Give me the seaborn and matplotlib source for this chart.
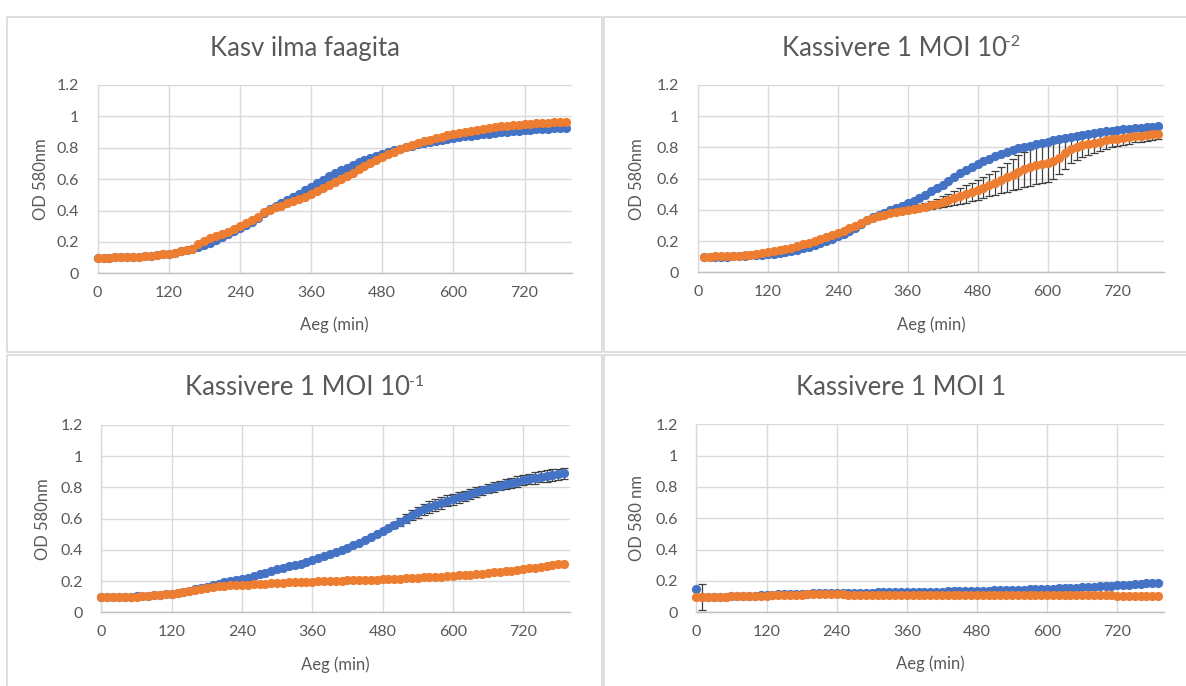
import matplotlib
matplotlib.use("Agg")
import matplotlib.pyplot as plt
from matplotlib.patches import Rectangle
from matplotlib.ticker import FuncFormatter
import seaborn as sns

# ---------------------------------------------------------------- data
# sampling schedule (min)
TIME = list(range(0, 800, 10))
TIME_MOI2 = list(range(10, 800, 10))

# Kasv ilma faagita
kasv_blue = [
    .100, .100, .100, .101, .102, .103, .105, .107, .110, .113,
    .117, .121, .126, .132, .139, .147, .156, .167, .180, .195,
    .212, .230, .249, .268, .288, .308, .330, .355, .385, .410,
    .430, .447, .465, .485, .507, .530, .553, .575, .596, .617,
    .637, .656, .674, .692, .708, .723, .737, .750, .762, .773,
    .784, .795, .805, .814, .822, .830, .837, .844, .850, .856,
    .862, .867, .872, .877, .882, .886, .890, .894, .898, .902,
    .905, .908, .911, .914, .917, .920, .922, .924, .926, .928]
kasv_orange = [
    .100, .100, .100, .101, .102, .103, .105, .107, .110, .113,
    .117, .121, .126, .132, .139, .146, .156, .185, .208, .222,
    .236, .250, .265, .282, .300, .318, .338, .360, .388, .405,
    .420, .432, .445, .458, .472, .488, .505, .523, .542, .562,
    .582, .602, .622, .642, .662, .683, .703, .722, .740, .758,
    .775, .790, .805, .818, .830, .841, .852, .862, .871, .880,
    .888, .896, .903, .910, .916, .922, .927, .932, .936, .940,
    .944, .947, .950, .953, .956, .958, .960, .962, .963, .964]

# Kassivere 1 MOI 10^-2
moi2_blue = [
    .096, .097, .098, .099, .100, .102, .104, .106, .108, .110,
    .113, .116, .120, .125, .131, .138, .146, .155, .165, .176,
    .188, .201, .215, .230, .247, .266, .287, .310, .333, .355,
    .370, .383, .396, .410, .425, .442, .460, .478, .497, .518,
    .540, .562, .586, .610, .633, .655, .675, .694, .712, .729,
    .745, .759, .772, .784, .794, .803, .811, .819, .828, .836,
    .845, .853, .860, .866, .873, .880, .886, .892, .898, .903,
    .908, .913, .917, .920, .923, .926, .929, .932, .935]
moi2_orange = [
    .100, .101, .102, .103, .104, .105, .107, .109, .112, .116,
    .121, .127, .134, .141, .149, .158, .168, .179, .190, .201,
    .212, .224, .237, .251, .266, .282, .299, .316, .332, .346,
    .358, .369, .378, .386, .393, .399, .406, .413, .421, .430,
    .440, .451, .463, .476, .489, .502, .515, .528, .543, .558,
    .574, .591, .608, .626, .643, .659, .673, .685, .694, .701,
    .713, .735, .763, .788, .803, .814, .823, .831, .838, .845,
    .851, .857, .862, .867, .872, .876, .880, .884, .888]
moi2_err_time = list(range(380, 800, 10))
moi2_orange_err = [
    .015, .020, .025, .030, .035, .040, .045, .050, .055, .060,
    .064, .068, .072, .078, .085, .092, .100, .107, .113, .118,
    .121, .122, .121, .116, .108, .098, .089, .081, .075, .069,
    .064, .059, .055, .051, .048, .045, .042, .040, .038, .036,
    .035, .034]

# Kassivere 1 MOI 10^-1
moi1_blue = [
    .096, .097, .098, .099, .100, .101, .102, .104, .106, .109,
    .112, .116, .120, .126, .132, .139, .147, .156, .165, .174,
    .183, .191, .199, .206, .213, .222, .232, .243, .254, .266,
    .277, .286, .294, .302, .311, .322, .334, .346, .358, .371,
    .385, .399, .414, .430, .446, .463, .481, .499, .518, .538,
    .558, .579, .600, .621, .641, .659, .675, .689, .702, .714,
    .725, .736, .747, .758, .770, .782, .793, .802, .811, .820,
    .829, .838, .847, .854, .861, .868, .874, .880, .885, .890]
moi1_orange = [
    .095, .096, .097, .098, .099, .100, .101, .103, .105, .108,
    .111, .115, .119, .124, .130, .137, .144, .151, .158, .163,
    .167, .170, .172, .174, .176, .178, .180, .182, .184, .186,
    .188, .190, .191, .193, .194, .196, .197, .198, .199, .201,
    .202, .203, .204, .205, .206, .207, .208, .209, .211, .212,
    .213, .215, .217, .219, .221, .223, .225, .227, .229, .231,
    .233, .236, .239, .242, .245, .248, .251, .255, .259, .263,
    .267, .272, .277, .282, .287, .292, .297, .302, .307, .312]
moi1_err_time = list(range(500, 800, 10))
moi1_blue_err = [
    .020, .025, .030, .032, .034, .035, .036, .037, .037, .036,
    .035, .034, .033, .032, .031, .030, .030, .030, .030, .031,
    .032, .033, .034, .035, .036, .036, .036, .036, .035, .035]

# Kassivere 1 MOI 1
moi0_blue = [
    .147, .100, .099, .099, .100, .100, .101, .102, .103, .104,
    .106, .108, .110, .112, .114, .116, .117, .118, .119, .120,
    .121, .122, .122, .123, .123, .124, .124, .125, .125, .126,
    .126, .127, .127, .128, .128, .129, .129, .130, .130, .131,
    .131, .132, .132, .133, .134, .134, .135, .136, .137, .138,
    .139, .140, .141, .142, .143, .144, .145, .146, .147, .148,
    .150, .151, .153, .154, .156, .158, .160, .162, .164, .166,
    .168, .170, .172, .174, .177, .179, .182, .184, .187, .189]
moi0_orange = [
    .098, .097, .097, .098, .099, .100, .101, .102, .103, .104,
    .105, .106, .107, .108, .109, .110, .111, .112, .113, .114,
    .115, .116, .116, .116, .115, .114, .113, .112, .112, .111,
    .111, .111, .110, .110, .110, .110, .110, .110, .110, .110,
    .110, .110, .110, .110, .110, .110, .110, .110, .110, .110,
    .109, .109, .109, .109, .109, .109, .109, .109, .109, .109,
    .109, .108, .108, .108, .108, .108, .108, .108, .108, .108,
    .108, .108, .107, .107, .107, .107, .107, .107, .107, .107]
moi0_err_time = [10]
moi0_orange_err = [.082]

X_TICKS = [0, 120, 240, 360, 480, 600, 720]
Y_TICKS = [0, 0.2, 0.4, 0.6, 0.8, 1.0, 1.2]

# ---------------------------------------------------------------- style
BLUE = "#4472C4"
ORANGE = "#ED7D31"
TEXT = "#595959"
GRID = "#D9D9D9"
TITLE_SIZE = 18.5

sns.set_style("white")
plt.rcParams["font.family"] = ["Lato", "DejaVu Sans"]

W, H = 1186, 686
fig = plt.figure(figsize=(W / 100, H / 100), dpi=100)
renderer = fig.canvas.get_renderer()


def fx(px):
    return px / W


def fy(py):
    return 1 - py / H


def chart_title(cx, base, main, sup=None):
    """Centred title; an optional exponent is set small and raised."""
    t1 = fig.text(0, fy(base), main, ha="left", va="baseline",
                  fontsize=TITLE_SIZE, color=TEXT)
    w1 = t1.get_window_extent(renderer).width
    w2, t2 = 0, None
    if sup:
        t2 = fig.text(0, fy(base - 9.5), sup, ha="left", va="baseline",
                      fontsize=TITLE_SIZE * 0.62, color=TEXT)
        w2 = t2.get_window_extent(renderer).width - 1
    x0 = cx - (w1 + w2) / 2
    t1.set_x(fx(x0))
    if t2 is not None:
        t2.set_x(fx(x0 + w1 - 1.5))


# light frames around each chart
for x0, y0, x1, y1 in [(7, 17, 602, 352), (604, 17, 1200, 352),
                       (7, 355, 602, 700), (604, 355, 1200, 700)]:
    fig.patches.append(Rectangle((fx(x0), fy(y1)), (x1 - x0) / W, (y1 - y0) / H,
                                 transform=fig.transFigure, fill=False,
                                 edgecolor=GRID, lw=1.2))

panels = [
    dict(box=(97.6, 85, 572, 273.3), title=("Kasv ilma faagita", None), tx=305, ty=56,
         ylab="OD 580nm", ylx=41, xly=325,
         blue=(TIME, kasv_blue), orange=(TIME, kasv_orange), err=None),
    dict(box=(698, 85, 1164, 272.3), title=("Kassivere 1 MOI 10", "-2"), tx=901, ty=56,
         ylab="OD 580nm", ylx=637, xly=325,
         blue=(TIME_MOI2, moi2_blue), orange=(TIME_MOI2, moi2_orange),
         err=("orange", moi2_err_time, moi2_orange_err)),
    dict(box=(101.4, 425, 570, 612.3), title=("Kassivere 1 MOI 10", "-1"), tx=305, ty=395,
         ylab="OD 580nm", ylx=43, xly=665,
         blue=(TIME, moi1_blue), orange=(TIME, moi1_orange),
         err=("blue", moi1_err_time, moi1_blue_err)),
    dict(box=(696.4, 424.3, 1164, 612.3), title=("Kassivere 1 MOI 1", None), tx=901, ty=395,
         ylab="OD 580 nm", ylx=637, xly=664,
         blue=(TIME, moi0_blue), orange=(TIME, moi0_orange),
         err=("orange", moi0_err_time, moi0_orange_err)),
]

for p in panels:
    l, t, r, b = p["box"]
    ax = fig.add_axes([fx(l), fy(b), (r - l) / W, (b - t) / H])

    # error bars sit under the markers
    if p["err"] is not None:
        which, et, ev = p["err"]
        st, sv = p[which]
        lookup = dict(zip(st, sv))
        ax.errorbar(et, [lookup[v] for v in et], yerr=ev, fmt="none",
                    ecolor="#404040", elinewidth=0.9, capsize=3, capthick=0.9,
                    zorder=2)

    bt, bv = p["blue"]
    ot, ov = p["orange"]
    sns.scatterplot(x=bt, y=bv, ax=ax, color=BLUE, s=44, linewidth=0,
                    clip_on=False, zorder=3)
    sns.scatterplot(x=ot, y=ov, ax=ax, color=ORANGE, s=44, linewidth=0,
                    clip_on=False, zorder=4)

    ax.set_xlim(0, 800)
    ax.set_ylim(0, 1.2)
    ax.set_xticks(X_TICKS)
    ax.set_yticks(Y_TICKS)
    ax.yaxis.set_major_formatter(FuncFormatter(lambda v, _: f"{v:g}"))
    ax.tick_params(axis="both", length=0, labelsize=11.5, labelcolor=TEXT)
    ax.tick_params(axis="y", pad=13.5)
    ax.tick_params(axis="x", pad=9)
    ax.grid(True, color=GRID, lw=1)
    ax.set_axisbelow(True)
    for s in ("top", "right"):
        ax.spines[s].set_visible(False)
    ax.spines["left"].set_color(GRID)
    ax.spines["bottom"].set_color("#BFBFBF")
    ax.spines["left"].set_linewidth(1)
    ax.spines["bottom"].set_linewidth(1)
    ax.set_xlabel("")
    ax.set_ylabel("")

    chart_title(p["tx"], p["ty"], *p["title"])
    fig.text(fx(p["ylx"]), fy((t + b) / 2), p["ylab"], rotation=90,
             ha="center", va="center", fontsize=12, color=TEXT)
    fig.text(fx((l + r) / 2), fy(p["xly"]), "Aeg (min)", ha="center",
             va="center", fontsize=12, color=TEXT)

fig.savefig("out.png", dpi=100)
